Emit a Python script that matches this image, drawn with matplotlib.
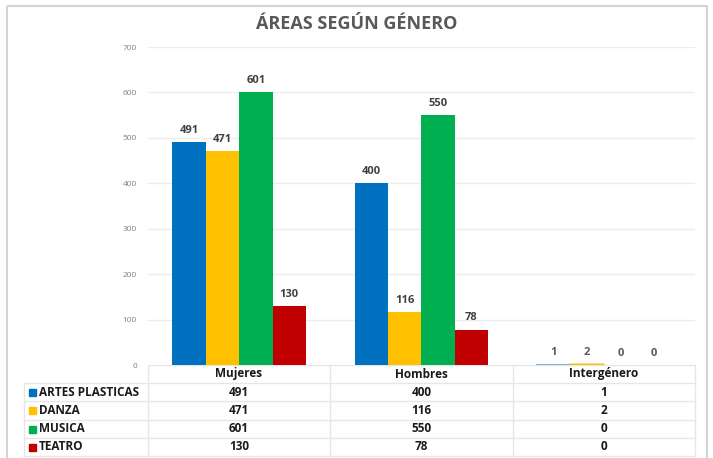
import numpy as np
import matplotlib.pyplot as plt
from matplotlib.patches import Rectangle

plt.rcParams['font.family'] = ['Open Sans', 'DejaVu Sans']

categorias = ["Mujeres", "Hombres", "Intergénero"]
areas = ["ARTES PLASTICAS", "DANZA", "MUSICA", "TEATRO"]
artes = [491, 400, 1]
danza = [471, 116, 2]
musica = [601, 550, 0]
teatro = [130, 78, 0]
colores = ["#0070C0", "#FFC000", "#00B050", "#C00000"]
yticks = [0, 100, 200, 300, 400, 500, 600, 700]

W, H = 713, 458
fig = plt.figure(figsize=(W / 100, H / 100), dpi=100)

# axes in pixel units for the frame and the data table
bg = fig.add_axes([0, 0, 1, 1])
bg.set_xlim(0, W); bg.set_ylim(H, 0); bg.axis("off")
bg.add_patch(Rectangle((7, 6), 700, 470, fill=False, ec="#d4d4d4", lw=1.5))

x0, x1, y0, y1 = 148, 695, 47, 365
ax = fig.add_axes([x0 / W, 1 - y1 / H, (x1 - x0) / W, (y1 - y0) / H])
series = [artes, danza, musica, teatro]
x = np.arange(len(categorias))
w = 0.183
for i, (vals, c) in enumerate(zip(series, colores)):
    pos = x + (i - 1.5) * w
    ax.bar(pos, vals, w, color=c, zorder=3)
    for p, v in zip(pos, vals):
        if 0 < v < 10:
            # tiny values still show as a thin line in the original
            ax.plot([p - w / 2, p + w / 2], [v, v], color=c, lw=1.2, alpha=0.6, zorder=3)
        ax.annotate(str(v), (p, v), xytext=(0, 4.5), textcoords="offset points",
                    ha="center", va="bottom", fontsize=8, fontweight="bold",
                    color="#595959" if v < 10 else "#404040")
ax.set_xlim(-0.5, 2.5)
ax.set_ylim(0, 700)
ax.set_yticks(yticks)
ax.grid(axis="y", color="#ececec", lw=1, zorder=0)
ax.set_xticks([])
for s in ax.spines.values():
    s.set_visible(False)
ax.tick_params(axis="y", length=0, labelsize=6, labelcolor="#7f7f7f", pad=8)

fig.text(357 / W, 1 - 24 / H, "ÁREAS SEGÚN GÉNERO", ha="center", va="center",
         fontsize=13, fontweight="bold", color="#595959")

# data table
cols = [x0, 330, 513, x1]
rows = [365, 383, 401, 420, 438, 456]
lc = "#e6e6e6"
bg.plot([x0, x1], [rows[0], rows[0]], color=lc, lw=1)
for r in rows[1:]:
    bg.plot([24, x1], [r, r], color=lc, lw=1)
bg.plot([24, 24], [rows[1], rows[-1]], color=lc, lw=1)
for cx in cols:
    bg.plot([cx, cx], [rows[0], rows[-1]], color=lc, lw=1)
for j, cat in enumerate(categorias):
    bg.text((cols[j] + cols[j + 1]) / 2, (rows[0] + rows[1]) / 2, cat,
            ha="center", va="center", fontsize=8.5, fontweight="bold", color="#1a1a1a")
for i, (name, vals, c) in enumerate(zip(areas, series, colores)):
    yc = (rows[i + 1] + rows[i + 2]) / 2
    bg.add_patch(Rectangle((29, yc - 3.5), 7, 7, color=c))
    bg.text(39, yc, name, ha="left", va="center", fontsize=8.5,
            fontweight="bold", color="#1a1a1a")
    for j, v in enumerate(vals):
        bg.text((cols[j] + cols[j + 1]) / 2, yc, str(v), ha="center", va="center",
                fontsize=8.5, fontweight="bold", color="#1a1a1a")

fig.savefig("out.png", dpi=100)
